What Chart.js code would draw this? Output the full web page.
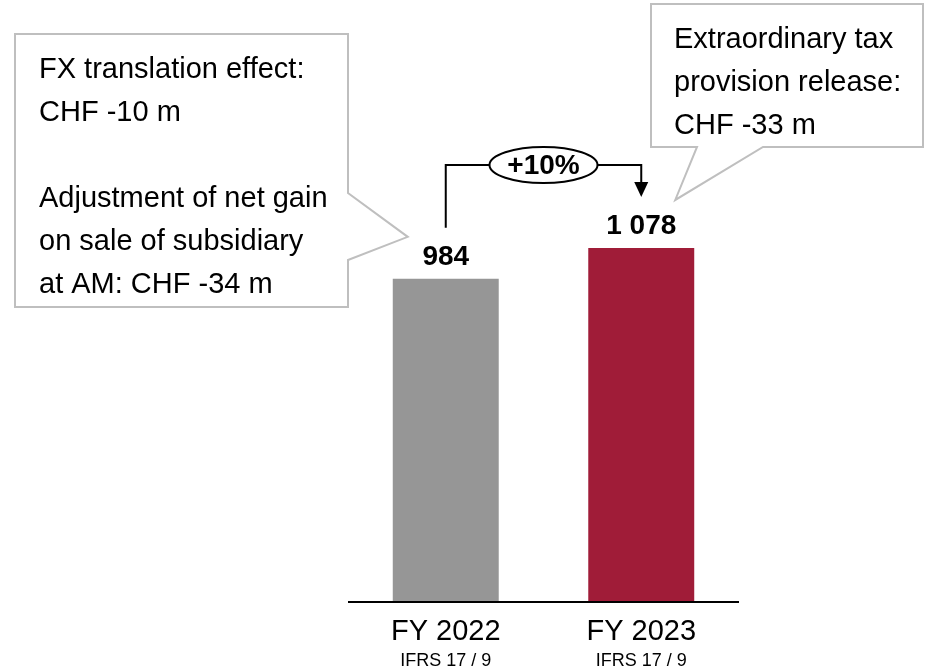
<!DOCTYPE html>
<html>
<head>
<meta charset="utf-8">
<script src="https://cdn.jsdelivr.net/npm/chart.js@4.4.1/dist/chart.umd.min.js"></script>
<style>
  html, body { margin: 0; padding: 0; background: #fff; }
  #wrap { width: 932px; height: 669px; }
</style>
</head>
<body>
<div id="wrap"><canvas id="chart" width="932" height="669"></canvas></div>
<script>
const categories = ["FY 2022", "FY 2023"];
const subLabels = ["IFRS 17 / 9", "IFRS 17 / 9"];
const values = [984, 1078];
const valueLabels = ["984", "1 078"];
const barColors = ["#969696", "#A01C38"];
const growthLabel = "+10%";
const leftNote = ["FX translation effect:", "CHF -10 m", "", "Adjustment of net gain", "on sale of subsidiary", "at AM: CHF -34 m"];
const rightNote = ["Extraordinary tax", "provision release:", "CHF -33 m"];

const FONT = "'Liberation Sans', Arial, sans-serif";

function callout(ctx, pts) {
  ctx.save();
  ctx.beginPath();
  ctx.moveTo(pts[0][0], pts[0][1]);
  for (let i = 1; i < pts.length; i++) ctx.lineTo(pts[i][0], pts[i][1]);
  ctx.closePath();
  ctx.fillStyle = "#fff";
  ctx.fill();
  ctx.strokeStyle = "#bfbfbf";
  ctx.lineWidth = 2;
  ctx.stroke();
  ctx.restore();
}

const extras = {
  id: "extras",
  afterDatasetsDraw(chart) {
    const ctx = chart.ctx;
    const area = chart.chartArea;
    const yScale = chart.scales.y;
    const bars = chart.getDatasetMeta(0).data;
    const base = yScale.getPixelForValue(0);

    // axis line
    ctx.save();
    ctx.strokeStyle = "#000";
    ctx.lineWidth = 2;
    ctx.beginPath();
    ctx.moveTo(area.left, base);
    ctx.lineTo(area.right, base);
    ctx.stroke();

    // category labels
    ctx.fillStyle = "#000";
    ctx.textAlign = "center";
    ctx.textBaseline = "alphabetic";
    bars.forEach((b, i) => {
      ctx.font = "29px " + FONT;
      ctx.fillText(categories[i], b.x, base + 38);
      ctx.font = "18px " + FONT;
      ctx.fillText(subLabels[i], b.x, base + 64);
      ctx.font = "bold 28px " + FONT;
      ctx.fillText(valueLabels[i], b.x, b.y - 14);
    });

    // growth bracket
    const b0 = bars[0], b1 = bars[1];
    const lineY = b1.y - 83;
    const cx = (b0.x + b1.x) / 2;
    const rx = 54, ry = 18;
    ctx.lineWidth = 2;
    ctx.beginPath();
    ctx.moveTo(b0.x, b0.y - 51);
    ctx.lineTo(b0.x, lineY);
    ctx.lineTo(cx - rx, lineY);
    ctx.moveTo(cx + rx, lineY);
    ctx.lineTo(b1.x, lineY);
    ctx.lineTo(b1.x, b1.y - 64);
    ctx.stroke();
    ctx.beginPath();
    ctx.moveTo(b1.x - 7, b1.y - 66);
    ctx.lineTo(b1.x + 7, b1.y - 66);
    ctx.lineTo(b1.x, b1.y - 51);
    ctx.closePath();
    ctx.fill();
    ctx.beginPath();
    ctx.ellipse(cx, lineY, rx, ry, 0, 0, Math.PI * 2);
    ctx.fillStyle = "#fff";
    ctx.fill();
    ctx.stroke();
    ctx.fillStyle = "#000";
    ctx.font = "bold 28px " + FONT;
    ctx.textBaseline = "middle";
    ctx.fillText(growthLabel, cx, lineY + 1);
    ctx.restore();

    // callouts
    const lt = [b0.x - 38, b0.y - 42];
    callout(ctx, [[15, 34], [348, 34], [348, 193], lt, [348, 260], [348, 307], [15, 307]]);
    const rt = [b1.x + 34, b1.y - 48];
    callout(ctx, [[651, 4], [923, 4], [923, 147], [763, 147], rt, [697, 147], [651, 147]]);

    ctx.save();
    ctx.fillStyle = "#000";
    ctx.font = "29px " + FONT;
    ctx.textAlign = "left";
    ctx.textBaseline = "alphabetic";
    leftNote.forEach((t, i) => ctx.fillText(t, 39, 78 + i * 43));
    rightNote.forEach((t, i) => ctx.fillText(t, 674, 48 + i * 43));
    ctx.restore();
  }
};

new Chart(document.getElementById("chart"), {
  type: "bar",
  data: {
    labels: categories,
    datasets: [{
      data: values,
      backgroundColor: barColors,
      borderWidth: 0,
      barPercentage: 0.542,
      categoryPercentage: 1
    }]
  },
  options: {
    responsive: false,
    animation: false,
    devicePixelRatio: 1,
    layout: { padding: { left: 348, right: 193, top: 0, bottom: 67 } },
    plugins: { legend: { display: false }, tooltip: { enabled: false } },
    scales: {
      x: { display: false },
      y: { display: false, min: 0, max: 1833 }
    }
  },
  plugins: [extras]
});
</script>
</body>
</html>
